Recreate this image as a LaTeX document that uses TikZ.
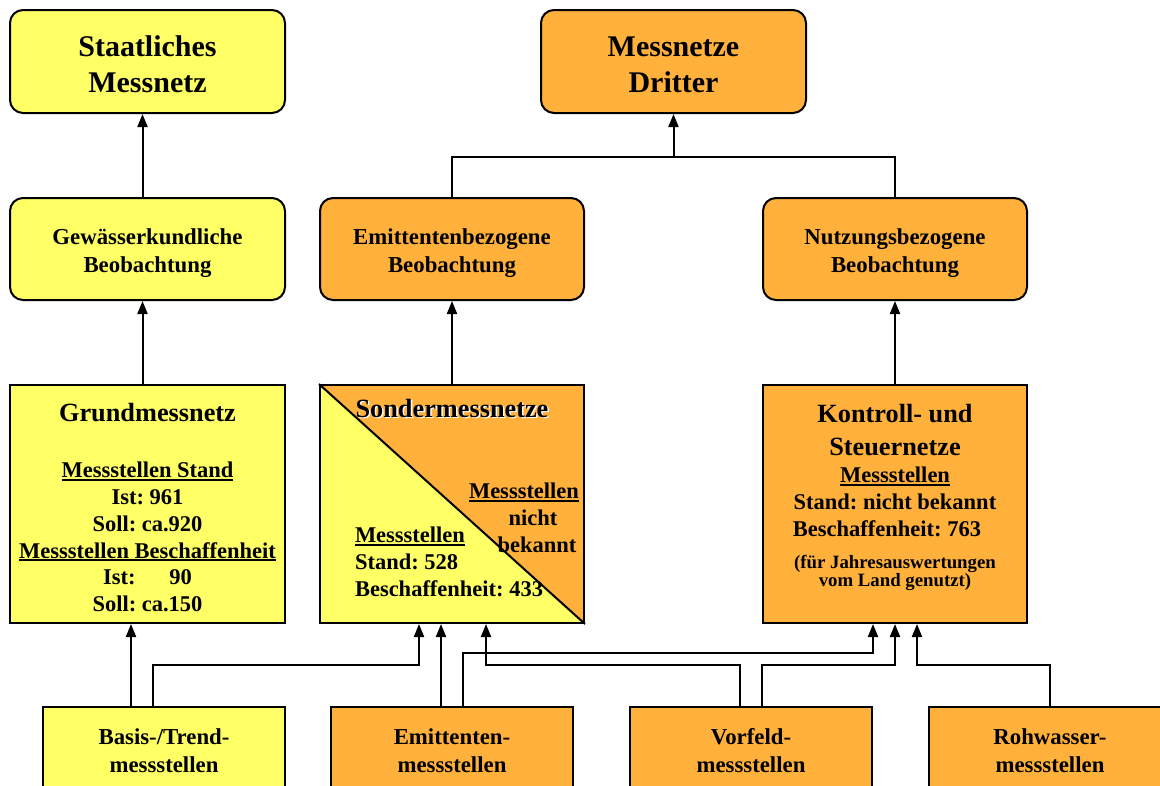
\documentclass[tikz,border=0pt]{standalone}
\usepackage{fontspec}
\setmainfont{Liberation Serif}
\usepackage{tikz}
\usetikzlibrary{arrows.meta}

\definecolor{gelb}{RGB}{255,255,102}
\definecolor{orangeton}{RGB}{255,177,59}

\newcommand\titelschrift{\fontsize{30}{36}\selectfont\bfseries}
\newcommand\kopfschrift{\fontsize{26.3}{33}\selectfont\bfseries}
\newcommand\mittelschrift{\fontsize{22.8}{28}\selectfont\bfseries}
\newcommand\textschrift{\fontsize{22.5}{26.8}\selectfont\bfseries}
\newcommand\kleinschrift{\fontsize{18.8}{16}\selectfont\bfseries}
\newcommand\unterstr[1]{\leavevmode\vtop{\hbox{#1}\kern1.2pt\hrule height 1.8pt}}
\frenchspacing

\begin{document}
\begin{tikzpicture}[x=1pt, y=-1pt, line width=2pt, inner sep=0pt,
    kasten/.style={draw, align=center},
    rund/.style={kasten, rounded corners=13pt},
    pfeil/.style={-{Triangle[length=13pt,width=10pt]}}]
    \path[use as bounding box, clip] (0,0) rectangle (1160,785);

    \node[rund, fill=gelb, minimum width=275pt, minimum height=103pt] (staat) at (147.5,61.5) {};
    \node[font=\titelschrift, align=center] (staattext) at (147.5,64.5) {Staatliches\\Messnetz};
    \node[rund, fill=orangeton, minimum width=265pt, minimum height=103pt] (dritter) at (673.5,61.5) {};
    \node[font=\titelschrift, align=center] (drittertext) at (673.5,64.5) {Messnetze\\Dritter};

    \node[rund, fill=gelb, minimum width=275pt, minimum height=102pt] (gewbeob) at (147.5,249) {};
    \node[font=\mittelschrift, align=center] (gewtext) at (147.5,253) {Gewässerkundliche\\Beobachtung};
    \node[rund, fill=orangeton, minimum width=264pt, minimum height=102pt] (emitbeob) at (452,249) {};
    \node[font=\mittelschrift, align=center] (emittext) at (452,253) {Emittentenbezogene\\Beobachtung};
    \node[rund, fill=orangeton, minimum width=264pt, minimum height=102pt] (nutzbeob) at (895,249) {};
    \node[font=\mittelschrift, align=center] (nutztext) at (895,253) {Nutzungsbezogene\\Beobachtung};

    \node[kasten, fill=gelb, minimum width=275pt, minimum height=238pt] (grund) at (147.5,504) {};
    \node[font=\kopfschrift] (grundkopf) at (147.5,413) {Grundmessnetz};
    \node[font=\textschrift, align=center] (grundzahl) at (147.5,537) {\unterstr{Messstellen Stand}\\Ist: 961\\Soll: ca.920\\\unterstr{Messstellen Beschaffenheit}\\Ist:\hspace{1.5em}90\\Soll: ca.150};

    \node[kasten, fill=orangeton, minimum width=264pt, minimum height=238pt,
        path picture={\fill[gelb] (path picture bounding box.north west) -- (path picture bounding box.south east) -- (path picture bounding box.south west) -- cycle;}] (sonder) at (452,504) {};
    \draw (sonder.north west) -- (sonder.south east);
    \node[font=\kopfschrift, text=white] (sonderschatten) at (453.5,409.5) {Sondermessnetze};
    \node[font=\kopfschrift] (sonderkopf) at (452,408) {Sondermessnetze};
    \node[font=\textschrift, align=center] (sonderrechts) at (528,518) {\unterstr{Messstellen}\hspace*{8pt}\\\hspace*{10pt}nicht\\\hspace*{18pt}bekannt};
    \node[font=\textschrift, align=left, anchor=west] (sonderlinks) at (354,562) {\unterstr{Messstellen}\\Stand: 528\\Beschaffenheit: 433};

    \node[kasten, fill=orangeton, minimum width=264pt, minimum height=238pt] (kontr) at (895,504) {};
    \node[font=\kopfschrift, align=center] (kontrkopf) at (895,430.5) {Kontroll- und\\Steuernetze};
    \node[font=\textschrift, align=center] (kontrzahl) at (895,502) {\unterstr{Messstellen}\\Stand: nicht bekannt\\Beschaffenheit: 763\hspace*{16pt}};
    \node[font=\kleinschrift, align=center] (kontrnotiz) at (895,573) {(für Jahresauswertungen\\vom Land genutzt)};

    \node[kasten, fill=gelb, minimum width=242pt, minimum height=88pt, font=\mittelschrift] (basis) at (164,751) {Basis-/Trend-\\messstellen};
    \node[kasten, fill=orangeton, minimum width=242pt, minimum height=88pt, font=\mittelschrift] (emit) at (452,751) {Emittenten-\\messstellen};
    \node[kasten, fill=orangeton, minimum width=242pt, minimum height=88pt, font=\mittelschrift] (vorf) at (751,751) {Vorfeld-\\messstellen};
    \node[kasten, fill=orangeton, minimum width=242pt, minimum height=88pt, font=\mittelschrift] (rohw) at (1050,751) {Rohwasser-\\messstellen};

    \draw[pfeil] ([xshift=-5pt]gewbeob.north) -- ([xshift=-5pt]staat.south);
    \draw[pfeil] ([xshift=-5pt]grund.north) -- ([xshift=-5pt]gewbeob.south);
    \draw[pfeil] (sonder.north) -- (emitbeob.south);
    \draw[pfeil] (kontr.north) -- (nutzbeob.south);
    \coordinate (knoten) at ([yshift=-43pt]dritter.south);
    \draw (emitbeob.north) |- (knoten) -| (nutzbeob.north);
    \draw[pfeil] (knoten) -- (dritter.south);

    \draw[pfeil] ([xshift=-33pt]basis.north) -- ([xshift=-16.5pt]grund.south);
    \draw[pfeil] ([xshift=-11pt]basis.north) -- ++(0,-41) -| ([xshift=-33pt]sonder.south);
    \draw[pfeil] ([xshift=-11pt]emit.north) -- ([xshift=-11pt]sonder.south);
    \draw[pfeil] ([xshift=11pt]emit.north) -- ++(0,-53) -| ([xshift=-22pt]kontr.south);
    \draw[pfeil] ([xshift=-11pt]vorf.north) -- ++(0,-41) -| ([xshift=34pt]sonder.south);
    \draw[pfeil] ([xshift=11pt]vorf.north) -- ++(0,-41) -| (kontr.south);
    \draw[pfeil] (rohw.north) -- ++(0,-41) -| ([xshift=22pt]kontr.south);
\end{tikzpicture}
\end{document}
